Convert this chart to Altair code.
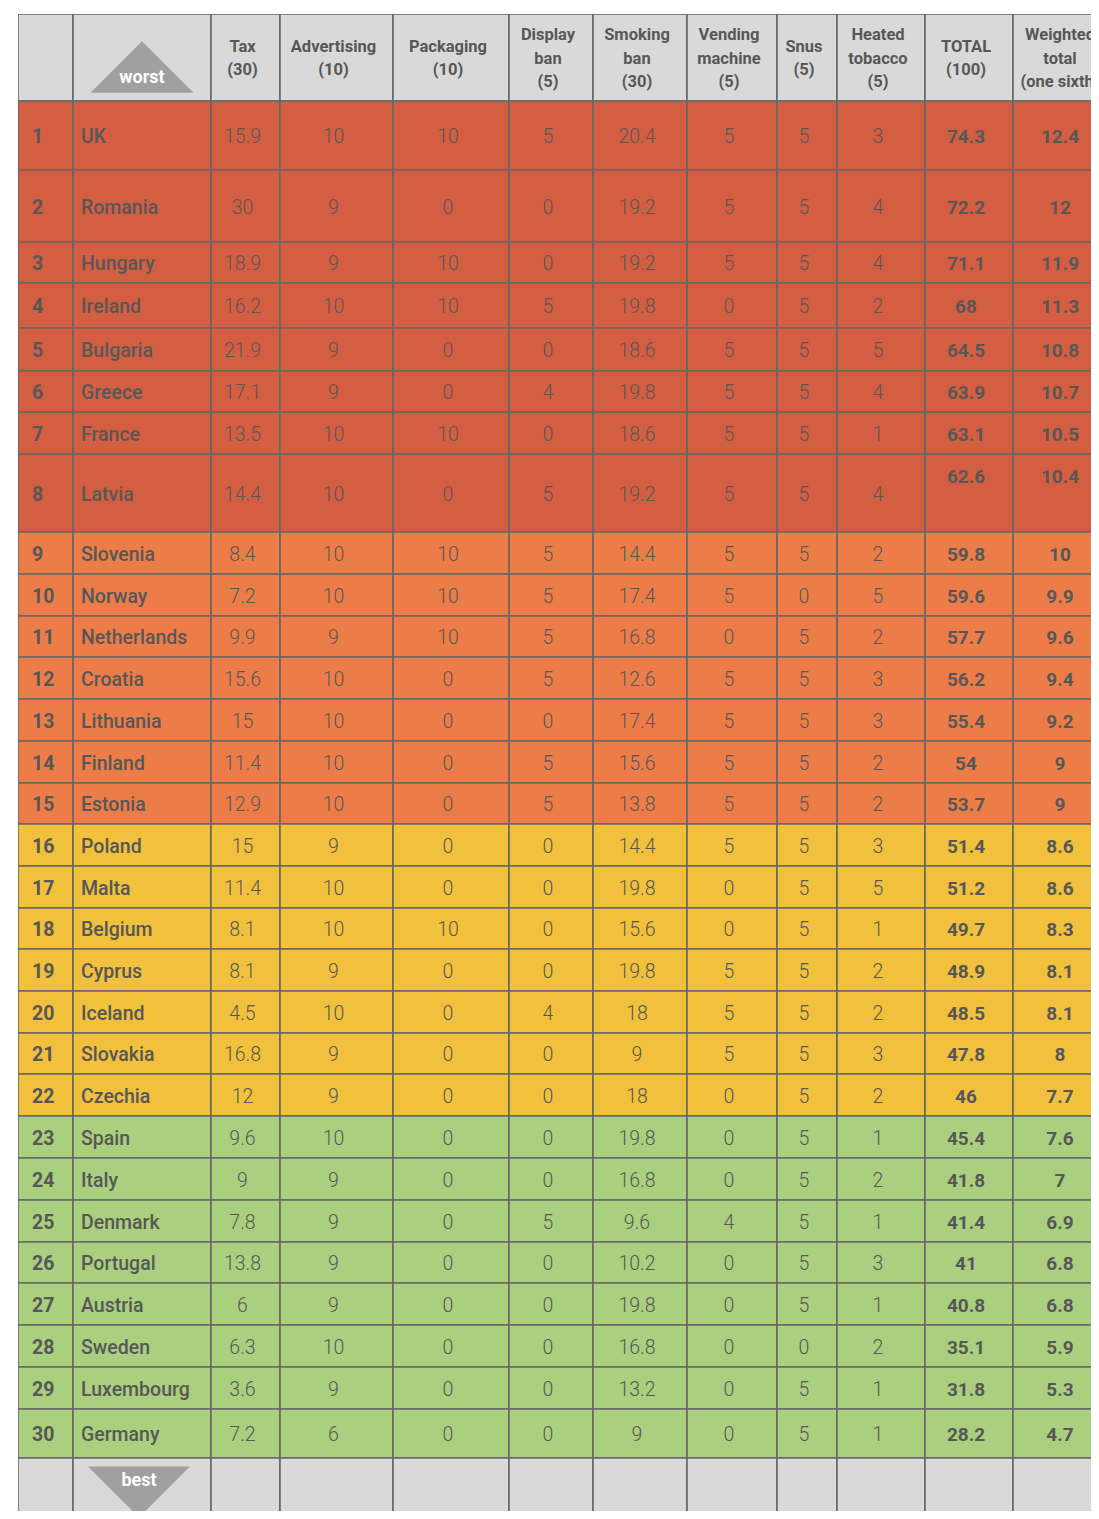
import altair as alt
import pandas as pd

# ---------------- data ----------------
ranks = [1, 2, 3, 4, 5, 6, 7, 8, 9, 10, 11, 12, 13, 14, 15,
         16, 17, 18, 19, 20, 21, 22, 23, 24, 25, 26, 27, 28, 29, 30]
countries = ["UK", "Romania", "Hungary", "Ireland", "Bulgaria", "Greece", "France", "Latvia",
             "Slovenia", "Norway", "Netherlands", "Croatia", "Lithuania", "Finland", "Estonia",
             "Poland", "Malta", "Belgium", "Cyprus", "Iceland", "Slovakia", "Czechia",
             "Spain", "Italy", "Denmark", "Portugal", "Austria", "Sweden", "Luxembourg", "Germany"]
tax = [15.9, 30, 18.9, 16.2, 21.9, 17.1, 13.5, 14.4, 8.4, 7.2, 9.9, 15.6, 15, 11.4, 12.9,
       15, 11.4, 8.1, 8.1, 4.5, 16.8, 12, 9.6, 9, 7.8, 13.8, 6, 6.3, 3.6, 7.2]
advertising = [10, 9, 9, 10, 9, 9, 10, 10, 10, 10, 9, 10, 10, 10, 10,
               9, 10, 10, 9, 10, 9, 9, 10, 9, 9, 9, 9, 10, 9, 6]
packaging = [10, 0, 10, 10, 0, 0, 10, 0, 10, 10, 10, 0, 0, 0, 0,
             0, 0, 10, 0, 0, 0, 0, 0, 0, 0, 0, 0, 0, 0, 0]
display_ban = [5, 0, 0, 5, 0, 4, 0, 5, 5, 5, 5, 5, 0, 5, 5,
               0, 0, 0, 0, 4, 0, 0, 0, 0, 5, 0, 0, 0, 0, 0]
smoking_ban = [20.4, 19.2, 19.2, 19.8, 18.6, 19.8, 18.6, 19.2, 14.4, 17.4, 16.8, 12.6, 17.4, 15.6, 13.8,
               14.4, 19.8, 15.6, 19.8, 18, 9, 18, 19.8, 16.8, 9.6, 10.2, 19.8, 16.8, 13.2, 9]
vending = [5, 5, 5, 0, 5, 5, 5, 5, 5, 5, 0, 5, 5, 5, 5,
           5, 0, 0, 5, 5, 5, 0, 0, 0, 4, 0, 0, 0, 0, 0]
snus = [5, 5, 5, 5, 5, 5, 5, 5, 5, 0, 5, 5, 5, 5, 5,
        5, 5, 5, 5, 5, 5, 5, 5, 5, 5, 5, 5, 0, 5, 5]
heated = [3, 4, 4, 2, 5, 4, 1, 4, 2, 5, 2, 3, 3, 2, 2,
          3, 5, 1, 2, 2, 3, 2, 1, 2, 1, 3, 1, 2, 1, 1]
total = [74.3, 72.2, 71.1, 68, 64.5, 63.9, 63.1, 62.6, 59.8, 59.6, 57.7, 56.2, 55.4, 54, 53.7,
         51.4, 51.2, 49.7, 48.9, 48.5, 47.8, 46, 45.4, 41.8, 41.4, 41, 40.8, 35.1, 31.8, 28.2]
weighted = [12.4, 12, 11.9, 11.3, 10.8, 10.7, 10.5, 10.4, 10, 9.9, 9.6, 9.4, 9.2, 9, 9,
            8.6, 8.6, 8.3, 8.1, 8.1, 8, 7.7, 7.6, 7, 6.9, 6.8, 6.8, 5.9, 5.3, 4.7]
tiers = ["red", "red", "red", "red", "red", "red", "red", "red",
         "orange", "orange", "orange", "orange", "orange", "orange", "orange",
         "yellow", "yellow", "yellow", "yellow", "yellow", "yellow", "yellow",
         "green", "green", "green", "green", "green", "green", "green", "green"]
headers = ["", "", "Tax\n(30)", "Advertising\n(10)", "Packaging\n(10)", "Display\nban\n(5)",
           "Smoking\nban\n(30)", "Vending\nmachine\n(5)", "Snus\n(5)", "Heated\ntobacco\n(5)",
           "TOTAL\n(100)", "Weighted\ntotal\n(one sixth)"]

# ---------------- layout / style ----------------
col_widths = [55, 138, 69, 113, 116, 84, 94, 90, 60, 88, 88, 100]
header_h = 87
footer_h = 87
row_heights = [69, 72, 41, 45, 43, 41, 42, 78, 42, 42, 41, 42, 42, 42, 41,
               42, 42, 41, 42, 42, 41, 42, 42, 42, 42, 41, 42, 42, 42, 49]
tier_colors = {"red": "#D45E42", "orange": "#EC7D49", "yellow": "#F1C03C", "green": "#AACF7E"}
HEAD_FILL = "#D9D9D9"
LINE = "#676767"
TEXT = "#575757"
TRI = "#A0A0A0"
FONT = "Roboto"
LINE_H = 23.5

W = 1073   # plot area: x 18 -> 1091 on the page
H = 1497   # plot area: y 14 -> 1511 on the page

col_x = [0]
for w in col_widths:
    col_x.append(col_x[-1] + w)
row_y = [0, header_h]
for h in row_heights:
    row_y.append(row_y[-1] + h)
row_y.append(row_y[-1] + footer_h)

cells = []
for c in range(12):
    n_lines = headers[c].count("\n") + 1
    cells.append(dict(x=col_x[c], x2=col_x[c + 1], y=0, y2=header_h, fill=HEAD_FILL,
                      tx=(col_x[c] + col_x[c + 1]) / 2,
                      ty=header_h / 2 - (n_lines - 1) * LINE_H / 2,
                      text=headers[c], kind="header"))

def fmt(v):
    return f"{v:g}"

for r in range(30):
    y0, y1 = row_y[r + 1], row_y[r + 2]
    fill = tier_colors[tiers[r]]
    vals = [str(ranks[r]), countries[r], fmt(tax[r]), fmt(advertising[r]), fmt(packaging[r]),
            fmt(display_ban[r]), fmt(smoking_ban[r]), fmt(vending[r]), fmt(snus[r]),
            fmt(heated[r]), fmt(total[r]), fmt(weighted[r])]
    for c in range(12):
        if c == 0:
            kind, tx = "rank", col_x[c] + 14
        elif c == 1:
            kind, tx = "country", col_x[c] + 8
        elif c >= 10:
            kind = "bold_lift" if countries[r] == "Latvia" else "bold"
            tx = (col_x[c] + col_x[c + 1]) / 2
        else:
            kind, tx = "value", (col_x[c] + col_x[c + 1]) / 2
        cells.append(dict(x=col_x[c], x2=col_x[c + 1], y=y0, y2=y1, fill=fill,
                          tx=tx, ty=(y0 + y1) / 2, text=vals[c], kind=kind))

for c in range(12):
    cells.append(dict(x=col_x[c], x2=col_x[c + 1], y=row_y[-2], y2=row_y[-1], fill=HEAD_FILL,
                      tx=(col_x[c] + col_x[c + 1]) / 2, ty=(row_y[-2] + row_y[-1]) / 2,
                      text="", kind="footer"))

df = pd.DataFrame(cells)

xs = alt.Scale(domain=[0, W], range=[0, W], nice=False, zero=False)
ys = alt.Scale(domain=[0, H], reverse=True, nice=False, zero=False)

base = alt.Chart(df)

rects = base.mark_rect(stroke=LINE, strokeWidth=1.6, clip=True).encode(
    x=alt.X("x:Q", scale=xs, axis=None),
    x2="x2:Q",
    y=alt.Y("y:Q", scale=ys, axis=None),
    y2="y2:Q",
    fill=alt.Fill("fill:N", scale=None),
)

def text_layer(kind, **kw):
    return base.transform_filter(alt.datum.kind == kind).mark_text(
        font=FONT, color=TEXT, baseline="middle", clip=True, **kw
    ).encode(
        x=alt.X("tx:Q", scale=xs, axis=None),
        y=alt.Y("ty:Q", scale=ys, axis=None),
        text="text:N",
    )

t_header = text_layer("header", fontSize=16.5, fontWeight="bold", align="center",
                      lineBreak="\n", lineHeight=LINE_H, dx=-3, dy=1)
t_rank = text_layer("rank", fontSize=19.5, fontWeight="bold", align="left", dy=1.5)
t_country = text_layer("country", fontSize=19.5, fontWeight=500, align="left", dy=1.5)
t_value = text_layer("value", fontSize=19.5, fontWeight=300, align="center", dx=-3, dy=1.5)
t_bold = text_layer("bold", fontSize=19, fontWeight="bold", align="center", dx=-3, dy=1.5)
t_lift = text_layer("bold_lift", fontSize=19, fontWeight="bold", align="center", dx=-3, dy=-16)

# triangles ("worst" / "best")
c1 = (col_x[1] + col_x[2]) / 2
tri_df = pd.DataFrame([
    dict(x=c1, y=header_h / 2 + 9.5, label="worst", ly=header_h / 2 + 20.5,
         shape="M-1,0.5L1,0.5L0,-0.5Z", size=103 * 103),
    dict(x=c1 - 3, y=row_y[-2] + 34, label="best", ly=row_y[-2] + 23,
         shape="M-1,-0.5L1,-0.5L0,0.5Z", size=102 * 102),
])
tris = alt.Chart(tri_df).mark_point(filled=True, fill=TRI, opacity=1, strokeWidth=0,
                                    clip=True).encode(
    x=alt.X("x:Q", scale=xs, axis=None),
    y=alt.Y("y:Q", scale=ys, axis=None),
    shape=alt.Shape("shape:N", scale=None),
    size=alt.Size("size:Q", scale=None),
)
tri_text = alt.Chart(tri_df).mark_text(font=FONT, fontSize=18, fontWeight="bold", color="white",
                                        baseline="middle", align="center", clip=True).encode(
    x=alt.X("x:Q", scale=xs, axis=None),
    y=alt.Y("ly:Q", scale=ys, axis=None),
    text="label:N",
)

chart = alt.layer(rects, t_header, t_rank, t_country, t_value, t_bold, t_lift, tris, tri_text).properties(
    width=W, height=H,
    padding={"left": 10, "top": 6, "right": 0, "bottom": 0},
    autosize=alt.AutoSizeParams(type="none"),
    background="white",
).configure_view(strokeWidth=0)

chart.save("out.html", embed_options={"renderer": "svg", "actions": False})
